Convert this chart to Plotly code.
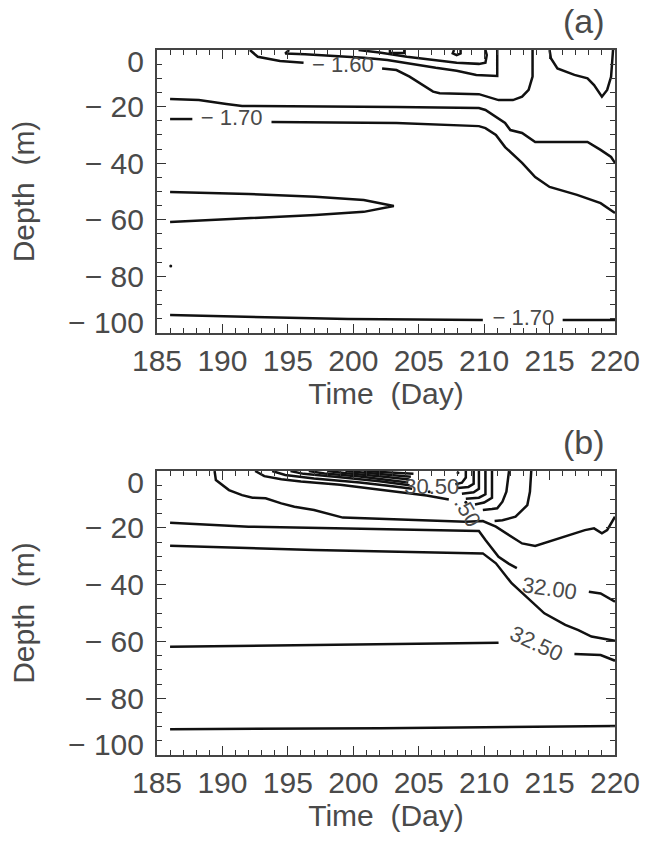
import plotly.graph_objects as go

# ---------------- Panel (a): temperature contours (day, depth) ----------------
A1_DAY = [192.1, 192.7, 194.4, 196.2]
A1_DEP = [0, -2.4, -3.9, -4.5]
A1B_DAY = [202.2, 203.3, 204.3, 205.4, 206.1, 206.6, 209.6, 211.1, 212.2, 212.9, 213.4, 213.7, 213.7]
A1B_DEP = [-6.5, -7.1, -9.4, -12.7, -14.7, -15.3, -15.6, -17.7, -17.7, -16.5, -14.1, -9.4, 0]
A2_DAY = [195.1, 194.8, 196.3, 198.6, 200.8, 202.6, 204.6, 206.3, 207.9, 209.4, 211.0, 211.0, 211.0]
A2_DEP = [0, -1.2, -1.5, -2.1, -2.7, -3.5, -5.1, -6.3, -7.3, -8.8, -9.2, -5.9, 0]
A3_DAY = [200.4, 202.0, 204.1, 206.1, 207.9, 209.6, 210.1, 210.2, 210.1]
A3_DEP = [0, -0.9, -2.4, -3.5, -4.5, -4.9, -4.5, -1.8, 0]
A4_DAY = [202.8, 202.8, 203.9, 203.9]
A4_DEP = [0, -1.1, -1.1, 0]
A5_DAY = [207.7, 207.6, 207.9, 208.2, 208.2]
A5_DEP = [0, -1.2, -1.8, -1.2, 0]
A6_DAY = [215.0, 215.1, 215.6, 216.9, 217.9, 218.4, 219.0, 219.4, 219.7, 219.8, 219.85]
A6_DEP = [0, -2.9, -6.5, -8.8, -10.0, -12.4, -16.5, -14.1, -9.5, -3.5, 0]
A7_DAY = [186.0, 188.2, 190.3, 191.5, 203.3, 209.6, 210.1, 210.9, 211.6, 212.0, 212.9, 213.9, 217.9, 218.9, 219.7, 220.0]
A7_DEP = [-17.3, -17.7, -19.1, -19.8, -20.1, -20.5, -21.2, -23.7, -25.8, -28.3, -29.3, -32.5, -32.5, -35.3, -37.8, -39.9]
A8_DAY = [186.0, 187.7]
A8_DEP = [-24.4, -24.4]
A8B_DAY = [193.75, 203.3, 209.6, 210.1, 210.9, 211.6, 212.9, 213.9, 215.0, 217.1, 218.9, 220.0]
A8B_DEP = [-25.4, -25.8, -26.9, -27.6, -30.0, -34.3, -39.9, -44.9, -48.4, -51.2, -54.1, -57.6]
A9_DAY = [186.0, 192.0, 197.1, 200.8, 203.1, 200.8, 197.1, 192.0, 186.0]
A9_DEP = [-50.2, -50.9, -51.9, -53.0, -55.1, -57.2, -58.3, -59.4, -60.8]
A10_DAY = [186.05]
A10_DEP = [-76.3]
A11_DAY = [186.0, 192.0, 199.6, 209.9]
A11_DEP = [-93.6, -94.3, -95.1, -95.4]
A11B_DAY = [216.0, 220.0]
A11B_DEP = [-95.4, -95.4]
A_LABEL_TEXT = ["\u2212 1.60", "\u2212 1.70", "\u2212 1.70"]
A_LABEL_DAY = [199.2, 190.7, 213.0]
A_LABEL_DEP = [-5.9, -24.7, -95.4]

# ---------------- Panel (b): salinity contours (day, depth) ----------------
BT_DAY = [189.4, 189.5, 190.5, 191.5, 192.3, 193.3, 194.5, 195.5, 197.0, 199.2, 208.6, 209.9, 210.9,
          211.9, 212.9, 213.9, 214.9, 216.4, 217.7, 218.4, 219.0, 219.4, 219.8, 220.0]
BT_DEP = [0, -3.2, -6.7, -8.5, -9.4, -9.6, -11.4, -12.6, -13.7, -16.4, -17.9, -17.6, -19.6,
          -22.5, -25.5, -26.4, -24.9, -22.5, -20.8, -20.2, -21.9, -20.8, -17.9, -16.1]
B2_DAY = [186.0, 192.0, 199.6, 209.6, 210.1, 211.1, 211.9, 212.5]
B2_DEP = [-18.2, -19.6, -20.2, -21.1, -24.3, -30.2, -32.7, -34.2]
B2B_DAY = [218.0, 218.9, 220.0]
B2B_DEP = [-42.5, -43.1, -46.0]
B3_DAY = [186.0, 197.0, 209.9, 210.9, 212.1, 213.1, 214.6, 216.2, 217.2, 218.2, 220.0]
B3_DEP = [-26.3, -27.8, -29.0, -32.5, -39.5, -43.7, -50.1, -54.2, -56.0, -58.3, -59.8]
B4_DAY = [186.0, 197.0, 211.1]
B4_DEP = [-61.9, -61.3, -60.5]
B4B_DAY = [216.9, 218.9, 220.0]
B4B_DEP = [-64.4, -64.8, -66.8]
B5_DAY = [186.0, 202.1, 220.0]
B5_DEP = [-90.9, -90.6, -89.8]
R1_DAY = [213.6, 213.5, 213.3, 212.4, 211.4, 210.8]
R1_DEP = [0, -7.3, -12.0, -16.1, -17.3, -17.6]
R2_DAY = [211.9, 211.7, 211.4, 211.0, 210.6, 209.9]
R2_DEP = [0, -7.3, -10.8, -13.1, -13.4, -13.7]
V1_DAY = [208.6, 208.6, 208.3, 207.8]
V1_DEP = [0, -2.3, -4.1, -4.7]
V2_DAY = [209.2, 209.2, 208.8, 208.0]
V2_DEP = [0, -4.5, -5.6, -6.0]
V3_DAY = [209.6, 209.6, 209.2, 208.3]
V3_DEP = [0, -6.3, -7.5, -8.0]
V4_DAY = [210.1, 210.1, 209.6, 208.6]
V4_DEP = [0, -8.2, -9.4, -9.8]
V5_DAY = [210.6, 210.6, 210.0, 209.3]
V5_DEP = [0, -9.4, -11.1, -11.8]
S1_DAY = [192.5, 193.2, 194.5, 196.0, 199.0, 203.3, 205.6, 207.3]
S1_DEP = [0, -1.8, -2.9, -3.7, -4.8, -7.2, -8.6, -10.0]
S2_DAY = [193.8, 194.8, 197.0, 200.5, 203.0, 204.5]
S2_DEP = [0, -1.4, -2.6, -4.0, -5.4, -6.2]
S3_DAY = [195.2, 196.2, 199.0, 202.0, 204.3]
S3_DEP = [0, -1.0, -2.2, -3.6, -5.0]
S4_DAY = [196.6, 197.8, 200.5, 202.5, 204.2]
S4_DEP = [0, -0.9, -1.9, -2.9, -4.0]
S5_DAY = [198.0, 199.5, 202.0, 204.3]
S5_DEP = [0, -0.8, -1.8, -3.0]
S6_DAY = [199.4, 201.0, 202.8, 204.4]
S6_DEP = [0, -0.6, -1.3, -2.0]
S7_DAY = [200.8, 202.5, 204.6]
S7_DEP = [0, -0.4, -1.0]
B_DOT_DAY = [208.0, 205.8, 208.6]
B_DOT_DEP = [-0.6, -7.3, -11.0]
B_FLAT_TEXT = ["30.50"]
B_FLAT_DAY = [206.0]
B_FLAT_DEP = [-6.0]
B_ROT_TEXT = [".50", "32.00", "32.50"]
B_ROT_DAY = [208.7, 215.0, 214.0]
B_ROT_DEP = [-14.4, -41.3, -60.7]
B_ROT_ANGLE = [60, 8, 25]

X_TICKS = [185, 190, 195, 200, 205, 210, 215, 220]
Y_TICKS = [-100, -80, -60, -40, -20, 0]
# depth tick labels; the end labels sit inside the frame, as in the original
Y_LABEL_TEXT = ["\u2212 100", "\u2212 80", "\u2212 60", "\u2212 40", "\u2212 20", "0"]
Y_LABEL_POS = [-96.4, -80, -60, -40, -20, -3.9]
PANEL_TEXT = ["(a)", "(b)"]

FONT = "Liberation Sans, Arial, sans-serif"
TXT = "#4a4a4a"
TICKC = "#333333"
LINE = dict(color="#111111", width=2.5)

fig = go.Figure()

a_lines = [(A1_DAY, A1_DEP), (A1B_DAY, A1B_DEP), (A2_DAY, A2_DEP), (A3_DAY, A3_DEP),
           (A4_DAY, A4_DEP), (A5_DAY, A5_DEP), (A6_DAY, A6_DEP), (A7_DAY, A7_DEP),
           (A8_DAY, A8_DEP), (A8B_DAY, A8B_DEP), (A9_DAY, A9_DEP),
           (A11_DAY, A11_DEP), (A11B_DAY, A11B_DEP)]
for xs, ys in a_lines:
    fig.add_trace(go.Scatter(x=xs, y=ys, mode="lines", line=LINE, xaxis="x", yaxis="y",
                             showlegend=False, hoverinfo="skip"))
# the dot is put on the label axis y3 (same scale as y) so that axis is drawn
fig.add_trace(go.Scatter(x=A10_DAY, y=A10_DEP, mode="markers", marker=dict(size=3, color="#111"),
                         xaxis="x", yaxis="y3", showlegend=False, hoverinfo="skip"))
fig.add_trace(go.Scatter(x=A_LABEL_DAY, y=A_LABEL_DEP, text=A_LABEL_TEXT, mode="text",
                         textposition="middle center", xaxis="x", yaxis="y", showlegend=False,
                         textfont=dict(family=FONT, size=22, color=TXT), hoverinfo="skip"))

b_lines = [(BT_DAY, BT_DEP), (B2_DAY, B2_DEP), (B2B_DAY, B2B_DEP), (B3_DAY, B3_DEP),
           (B4_DAY, B4_DEP), (B4B_DAY, B4B_DEP), (B5_DAY, B5_DEP), (R1_DAY, R1_DEP),
           (R2_DAY, R2_DEP), (V1_DAY, V1_DEP), (V2_DAY, V2_DEP), (V3_DAY, V3_DEP),
           (V4_DAY, V4_DEP), (V5_DAY, V5_DEP), (S1_DAY, S1_DEP), (S2_DAY, S2_DEP),
           (S3_DAY, S3_DEP), (S4_DAY, S4_DEP), (S5_DAY, S5_DEP), (S6_DAY, S6_DEP),
           (S7_DAY, S7_DEP)]
for xs, ys in b_lines:
    fig.add_trace(go.Scatter(x=xs, y=ys, mode="lines", line=LINE, xaxis="x2", yaxis="y2",
                             showlegend=False, hoverinfo="skip"))
fig.add_trace(go.Scatter(x=B_DOT_DAY, y=B_DOT_DEP, mode="markers", marker=dict(size=3, color="#111"),
                         xaxis="x2", yaxis="y4", showlegend=False, hoverinfo="skip"))
fig.add_trace(go.Scatter(x=B_FLAT_DAY, y=B_FLAT_DEP, text=B_FLAT_TEXT, mode="text",
                         textposition="middle center", xaxis="x2", yaxis="y2", showlegend=False,
                         textfont=dict(family=FONT, size=22, color=TXT), hoverinfo="skip"))

ann = []
for t, d, z, ang in zip(B_ROT_TEXT, B_ROT_DAY, B_ROT_DEP, B_ROT_ANGLE):
    ann.append(dict(x=d, y=z, xref="x2", yref="y2", text=t, showarrow=False, textangle=ang,
                    font=dict(family=FONT, size=22, color=TXT)))
for tag, ytop in zip(PANEL_TEXT, [1.0, 0.4028]):
    ann.append(dict(x=1, y=ytop, xref="paper", yref="paper", text=tag, showarrow=False,
                    xanchor="right", yanchor="bottom", xshift=-8, yshift=8,
                    font=dict(family=FONT, size=34, color=TXT)))

def xax(anchor):
    return dict(domain=[0, 1], range=[185, 220], anchor=anchor, tickmode="array", tickvals=X_TICKS,
                ticks="inside", ticklen=9, tickwidth=1.3, tickcolor=TICKC, mirror="ticks",
                showline=True, linecolor="#444", linewidth=1.5, showgrid=False, zeroline=False,
                minor=dict(tickmode="linear", tick0=185, dtick=1, ticks="inside", ticklen=5,
                           tickcolor=TICKC, tickwidth=1.3, showgrid=False),
                tickfont=dict(family=FONT, size=30, color=TXT),
                title=dict(text="Time  (Day)", font=dict(family=FONT, size=30, color=TXT), standoff=4))

def yax(domain, anchor):
    return dict(domain=domain, range=[-100, 0], anchor=anchor, tickmode="array", tickvals=Y_TICKS,
                showticklabels=False, ticks="inside", ticklen=9, tickwidth=1.3, tickcolor=TICKC,
                mirror="ticks", showline=True, linecolor="#444", linewidth=1.5, showgrid=False,
                zeroline=False,
                minor=dict(tickmode="linear", tick0=0, dtick=5, ticks="inside", ticklen=5,
                           tickcolor=TICKC, tickwidth=1.3, showgrid=False),
                title=dict(text="Depth  (m)", font=dict(family=FONT, size=30, color=TXT), standoff=112))

def ylab(over, anchor):
    return dict(overlaying=over, anchor=anchor, side="left", range=[-100, 0], tickmode="array",
                tickvals=Y_LABEL_POS, ticktext=Y_LABEL_TEXT, ticks="", showline=False,
                showgrid=False, zeroline=False, ticklabelstandoff=12,
                tickfont=dict(family=FONT, size=30, color=TXT))

fig.update_layout(
    width=652, height=848,
    margin=dict(l=157, r=31, t=50, b=93),
    paper_bgcolor="white", plot_bgcolor="white",
    xaxis=xax("y"), yaxis=yax([0.5986, 1.0], "x"),
    xaxis2=xax("y2"), yaxis2=yax([0.0, 0.4028], "x2"),
    yaxis3=ylab("y", "x"), yaxis4=ylab("y2", "x2"),
    annotations=ann, showlegend=False,
)

fig.write_html("out.html")
